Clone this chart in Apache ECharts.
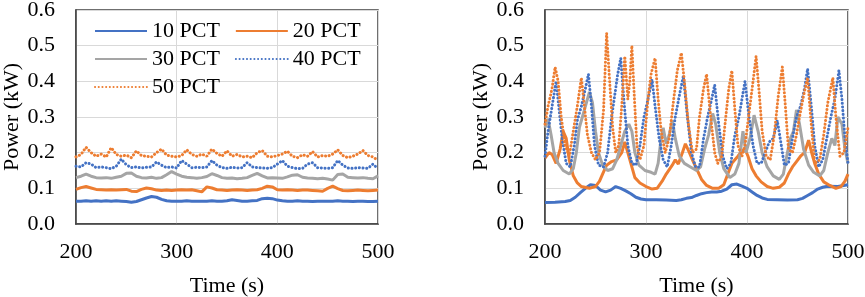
<!DOCTYPE html>
<html>
<head>
<meta charset="utf-8">
<title></title>
<script src="https://cdn.jsdelivr.net/npm/echarts@6/dist/echarts.min.js"></script>
<style>
*{
	padding:0;
	margin:0;
}
#chart{
	width:865px;
	height:297px;
	background:#ffffff;
}
</style>
</head>
<body>
<div id="chart"></div>
<script>
var names = ['10 PCT', '20 PCT', '30 PCT', '40 PCT', '50 PCT'];
var colors = ['#4472C4', '#ED7D31', '#A5A5A5', '#4472C4', '#ED7D31'];

// left panel: samples every 5 s
var leftTime = [200,205,210,215,220,225,230,235,240,245,
                250,255,260,265,270,275,280,285,290,295,
                300,305,310,315,320,325,330,335,340,345,
                350,355,360,365,370,375,380,385,390,395,
                400,405,410,415,420,425,430,435,440,445,
                450,455,460,465,470,475,480,485,490,495,
                500];
var left10 = [.064,.064,.065,.064,.065,.064,.065,.064,.065,.064,
              .063,.061,.063,.068,.073,.077,.075,.069,.065,.064,
              .064,.064,.065,.064,.064,.064,.064,.065,.064,.064,
              .065,.068,.066,.064,.064,.065,.066,.071,.072,.071,
              .067,.065,.064,.064,.065,.064,.064,.063,.064,.064,
              .064,.064,.065,.064,.064,.063,.064,.064,.063,.063,
              .064];
var left20 = [.097,.102,.105,.101,.097,.096,.095,.096,.095,.096,
              .097,.092,.091,.097,.101,.099,.095,.094,.095,.094,
              .095,.096,.095,.096,.093,.090,.104,.101,.096,.095,
              .094,.095,.096,.095,.094,.095,.096,.100,.106,.104,
              .096,.095,.096,.095,.094,.095,.095,.094,.093,.092,
              .100,.106,.099,.094,.093,.094,.095,.094,.093,.094,
              .095];
var left30 = [.130,.134,.140,.134,.130,.129,.130,.128,.131,.134,
              .142,.143,.134,.130,.129,.131,.128,.130,.138,.147,
              .140,.134,.131,.130,.128,.130,.133,.141,.136,.130,
              .128,.129,.127,.128,.130,.136,.142,.135,.129,.130,
              .129,.128,.132,.137,.138,.131,.129,.128,.127,.128,
              .126,.123,.139,.140,.131,.130,.129,.130,.128,.127,
              .135];
var left40 = [.162,.160,.172,.168,.158,.160,.158,.155,.162,.182,
              .166,.158,.160,.157,.159,.160,.174,.165,.158,.160,
              .157,.178,.168,.158,.159,.158,.160,.178,.165,.158,
              .156,.159,.157,.158,.172,.160,.158,.157,.156,.158,
              .168,.178,.162,.158,.155,.156,.168,.172,.158,.157,
              .156,.158,.178,.165,.157,.156,.158,.157,.156,.168,
              .155];
var left50 = [.188,.195,.215,.200,.190,.196,.188,.214,.195,.190,
              .193,.186,.205,.192,.190,.188,.200,.210,.193,.190,
              .188,.192,.208,.195,.190,.196,.190,.210,.198,.190,
              .205,.190,.195,.188,.190,.186,.200,.206,.190,.188,
              .192,.196,.204,.190,.186,.194,.190,.203,.188,.192,
              .190,.196,.208,.192,.186,.190,.196,.206,.192,.188,
              .178];

// right panel: [time, kW] read at the turning points
var right10 = [[200,.060],[210,.061],[220,.063],[225,.066],[230,.075],[235,.088],[240,.100],[245,.110],
               [250,.108],[255,.095],[260,.090],[265,.095],[270,.105],[275,.100],[280,.093],[285,.085],
               [290,.075],[295,.070],[300,.068],[310,.068],[320,.067],[330,.066],[335,.068],[340,.072],
               [345,.074],[350,.080],[355,.085],[360,.088],[365,.090],[370,.090],[375,.092],[380,.098],
               [385,.110],[390,.112],[395,.106],[400,.100],[405,.090],[410,.080],[415,.073],[420,.069],
               [430,.068],[440,.067],[450,.068],[455,.072],[460,.080],[465,.088],[470,.098],[475,.103],
               [480,.106],[490,.105],[500,.110]];
var right20 = [[200,.185],[204,.200],[207,.195],[211,.170],[215,.210],[218,.260],[221,.240],[224,.180],
               [228,.135],[232,.115],[236,.105],[244,.100],[250,.105],[254,.120],[257,.140],[261,.165],
               [266,.175],[271,.180],[276,.200],[279,.230],[282,.200],[285,.170],[289,.130],[294,.115],
               [300,.105],[306,.098],[311,.100],[316,.120],[320,.140],[326,.165],[329,.180],[332,.168],
               [336,.200],[339,.225],[343,.200],[346,.180],[350,.155],[355,.125],[360,.108],[366,.100],
               [372,.100],[377,.110],[381,.140],[385,.170],[388,.180],[391,.190],[395,.205],[398,.210],
               [401,.190],[405,.155],[409,.135],[414,.118],[420,.105],[426,.100],[432,.103],[437,.115],
               [441,.140],[445,.160],[449,.175],[453,.190],[457,.200],[461,.235],[464,.200],[467,.170],
               [471,.140],[476,.118],[482,.108],[488,.100],[493,.105],[497,.120],[500,.140]];
var right30 = [[200,.270],[203,.295],[206,.250],[209,.200],[213,.170],[218,.150],[224,.140],[228,.155],
               [231,.200],[234,.270],[237,.300],[240,.330],[244,.370],[247,.340],[250,.260],[253,.200],
               [257,.165],[262,.150],[267,.155],[271,.180],[275,.220],[279,.260],[283,.280],[286,.260],
               [289,.200],[293,.165],[299,.150],[305,.145],[309,.140],[312,.170],[315,.240],[317,.270],
               [320,.225],[323,.250],[326,.290],[329,.240],[333,.190],[338,.170],[344,.160],[350,.150],
               [354,.160],[358,.210],[362,.250],[366,.310],[369,.280],[373,.200],[377,.155],[383,.130],
               [388,.140],[392,.170],[396,.260],[399,.200],[403,.240],[407,.305],[411,.260],[415,.200],
               [420,.160],[426,.135],[432,.125],[436,.140],[440,.200],[443,.240],[446,.260],[449,.320],
               [452,.280],[456,.210],[461,.165],[466,.145],[472,.135],[476,.150],[480,.200],[484,.240],
               [487,.220],[490,.300],[494,.280],[497,.210],[500,.170]];
var right40 = [[200,.190],[203,.260],[207,.330],[211,.400],[214,.320],[217,.240],[221,.170],[225,.160],
               [229,.220],[232,.290],[236,.330],[240,.380],[243,.420],[246,.330],[249,.220],[253,.165],
               [258,.160],[262,.200],[266,.300],[269,.360],[272,.420],[275,.465],[278,.350],[282,.220],
               [286,.170],[290,.165],[294,.220],[298,.300],[302,.350],[306,.405],[309,.330],[313,.240],
               [317,.180],[321,.160],[325,.220],[329,.300],[333,.360],[337,.415],[341,.300],[345,.200],
               [349,.160],[353,.160],[357,.240],[361,.300],[365,.350],[368,.390],[372,.280],[376,.190],
               [380,.155],[384,.170],[388,.250],[392,.300],[395,.350],[398,.400],[402,.300],[406,.220],
               [410,.170],[414,.170],[418,.200],[422,.230],[426,.240],[430,.290],[434,.220],[437,.165],
               [441,.170],[445,.240],[449,.300],[453,.330],[457,.380],[460,.435],[464,.320],[467,.220],
               [471,.160],[475,.180],[479,.240],[483,.300],[487,.350],[491,.430],[494,.350],[497,.240],
               [500,.170]];
var right50 = [[200,.280],[203,.330],[207,.380],[210,.440],[213,.400],[216,.300],[220,.220],[224,.190],
               [228,.260],[232,.330],[236,.410],[239,.330],[242,.250],[246,.200],[250,.180],[254,.200],
               [258,.320],[261,.535],[264,.400],[267,.270],[270,.200],[273,.220],[276,.330],[279,.470],
               [282,.350],[284,.400],[286,.500],[288,.380],[291,.220],[294,.180],[298,.220],[302,.350],
               [305,.420],[309,.465],[312,.350],[315,.260],[319,.200],[323,.240],[327,.340],[331,.430],
               [335,.480],[338,.400],[342,.280],[346,.200],[350,.210],[353,.300],[357,.380],[360,.420],
               [364,.300],[368,.200],[371,.170],[375,.190],[379,.300],[382,.380],[385,.430],[388,.320],
               [391,.220],[395,.190],[398,.220],[402,.310],[406,.400],[409,.470],[412,.370],[415,.260],
               [419,.190],[423,.180],[427,.250],[431,.360],[435,.440],[438,.330],[441,.210],[445,.200],
               [449,.250],[452,.300],[456,.360],[460,.410],[463,.300],[467,.170],[472,.180],[476,.250],
               [480,.340],[485,.410],[488,.300],[492,.190],[496,.200],[500,.270]];

function pairs(ts, vs) {
    return ts.map(function (t, i) { return [t, vs[i]]; });
}

var font = 'Liberation Serif, Times New Roman, serif';
var txt = { color: '#000', fontSize: 22, fontFamily: font };

function makeSeries(idx, data, g) {
    var dotted = idx >= 3;
    return {
        name: names[idx],
        type: 'line',
        xAxisIndex: g,
        yAxisIndex: g,
        data: data,
        symbol: 'none',
        animation: false,
        itemStyle: { color: colors[idx] },
        lineStyle: {
            color: colors[idx],
            width: 3,
            type: dotted ? [0.1, 3.6] : 'solid',
            cap: dotted ? 'round' : 'butt'
        }
    };
}

function xAx(g) {
    return {
        type: 'value', gridIndex: g, min: 200, max: 500, interval: 100,
        name: 'Time (s)', nameLocation: 'middle', nameGap: 51, nameTextStyle: txt,
        axisLine: { show: true, lineStyle: { color: '#404040', width: 1.5 } },
        axisTick: { show: false },
        axisLabel: { margin: 17, color: '#000', fontSize: 22, fontFamily: font },
        splitLine: { show: true, lineStyle: { color: '#d9d9d9', width: 1 } }
    };
}
function yAx(g) {
    return {
        type: 'value', gridIndex: g, min: 0, max: 0.6, interval: 0.1,
        name: 'Power (kW)', nameLocation: 'middle', nameGap: 51, nameTextStyle: txt,
        axisLine: { show: true, lineStyle: { color: '#404040', width: 1.5 } },
        axisTick: { show: false },
        axisLabel: { margin: 21, color: '#000', fontSize: 22, fontFamily: font,
            formatter: function (v) { return v.toFixed(1); } },
        splitLine: { show: true, lineStyle: { color: '#d9d9d9', width: 1 } }
    };
}

function legendRow(items, top) {
    return {
        data: items, left: 94, top: top, itemWidth: 52, itemHeight: 14, itemGap: 15,
        itemStyle: { opacity: 0 },
        textStyle: txt, padding: 0, selectedMode: false
    };
}

var chart = echarts.init(document.getElementById('chart'));
var option = {
    animation: false,
    backgroundColor: '#fff',
    grid: [
        { left: 76, top: 10, width: 302, height: 214, outerBoundsMode: 'none', containLabel: false,
          show: true, borderColor: '#404040', borderWidth: 1.5 },
        { left: 545, top: 10, width: 303, height: 214, outerBoundsMode: 'none', containLabel: false,
          show: true, borderColor: '#404040', borderWidth: 1.5 }
    ],
    legend: [
        legendRow(['10 PCT', '20 PCT'], 20),
        legendRow(['30 PCT', '40 PCT'], 48),
        legendRow(['50 PCT'], 76)
    ],
    xAxis: [xAx(0), xAx(1)],
    yAxis: [yAx(0), yAx(1)],
    series: [
        makeSeries(0, pairs(leftTime, left10), 0),
        makeSeries(1, pairs(leftTime, left20), 0),
        makeSeries(2, pairs(leftTime, left30), 0),
        makeSeries(3, pairs(leftTime, left40), 0),
        makeSeries(4, pairs(leftTime, left50), 0),
        makeSeries(0, right10, 1),
        makeSeries(1, right20, 1),
        makeSeries(2, right30, 1),
        makeSeries(3, right40, 1),
        makeSeries(4, right50, 1)
    ]
};
chart.setOption(option);
</script>
</body>
</html>
